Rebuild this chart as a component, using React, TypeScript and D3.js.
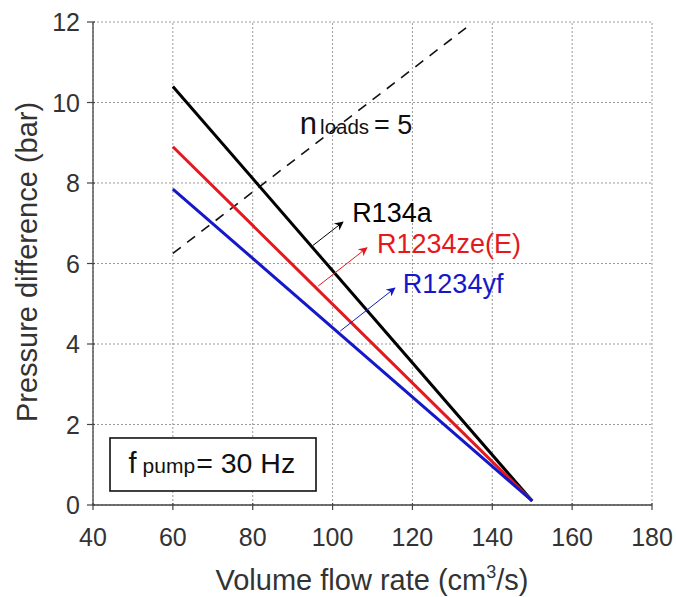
import React from "react";
import * as d3 from "d3";

const xTicks = [40, 60, 80, 100, 120, 140, 160, 180];
const yTicks = [0, 2, 4, 6, 8, 10, 12];

const flow = [60, 150];
const r134a = [10.4, 0.1];
const r1234ze = [8.9, 0.1];
const r1234yf = [7.85, 0.1];

const nLoadsFlow = [60, 134];
const nLoadsDp = [6.25, 11.9];

const seriesNames = ["R134a", "R1234ze(E)", "R1234yf"];
const seriesColors = ["#000000", "#e3191e", "#1518c8"];
const seriesValues = [r134a, r1234ze, r1234yf];

// arrows [x,y] in data units
const arrowStarts = [
  [95.1, 6.45],
  [96.4, 5.44],
  [101.9, 4.32],
];
const arrowEnds = [
  [102.6, 7.03],
  [108.6, 6.39],
  [115.6, 5.39],
];
const labelPos = [
  [104.9, 7.03],
  [111.1, 6.26],
  [117.6, 5.27],
];

const W = 676;
const H = 597;
const FONT = "'Liberation Sans', Arial, sans-serif";

export default function App() {
  const x = d3.scaleLinear().domain([40, 180]).range([93, 652]);
  const y = d3.scaleLinear().domain([0, 12]).range([505, 22]);
  const line = d3
    .line<[number, number]>()
    .x((d) => x(d[0]))
    .y((d) => y(d[1]));

  return (
    <svg
      width={W}
      height={H}
      style={{ position: "absolute", left: 0, top: 0, background: "#fff" }}
      fontFamily={FONT}
    >
      <defs>
        {seriesColors.map((c, i) => (
          <marker
            key={i}
            id={`ah${i}`}
            viewBox="0 0 10 10"
            refX="9"
            refY="5"
            markerWidth="11"
            markerHeight="9"
            markerUnits="userSpaceOnUse"
            orient="auto"
          >
            <path d="M0,0 L10,5 L0,10 L3,5 Z" fill={c} />
          </marker>
        ))}
      </defs>
      {/* grid */}
      {xTicks.map((t) => (
        <line
          key={"gx" + t}
          x1={x(t)}
          x2={x(t)}
          y1={y(0)}
          y2={y(12)}
          stroke="#9a9a9a"
          strokeDasharray="2,2"
          strokeWidth={1}
        />
      ))}
      {yTicks.map((t) => (
        <line
          key={"gy" + t}
          x1={x(40)}
          x2={x(180)}
          y1={y(t)}
          y2={y(t)}
          stroke="#9a9a9a"
          strokeDasharray="2,2"
          strokeWidth={1}
        />
      ))}
      {/* axes */}
      <line x1={x(40)} x2={x(40)} y1={y(0)} y2={y(12)} stroke="#444" strokeWidth={1.3} />
      <line x1={x(40)} x2={x(180)} y1={y(0)} y2={y(0)} stroke="#444" strokeWidth={1.3} />
      {xTicks.map((t) => (
        <g key={"tx" + t}>
          <line x1={x(t)} x2={x(t)} y1={y(0) - 2} y2={y(0) + 5} stroke="#444" strokeWidth={1.2} />
          <text x={x(t)} y={546} textAnchor="middle" fontSize={25} fill="#333">
            {t}
          </text>
        </g>
      ))}
      {yTicks.map((t) => (
        <g key={"ty" + t}>
          <line x1={x(40) - 6} x2={x(40) + 2} y1={y(t)} y2={y(t)} stroke="#444" strokeWidth={1.2} />
          <text
            x={80}
            y={y(t)}
            dy="0.36em"
            textAnchor="end"
            fontSize={25}
            fill="#333"
          >
            {t}
          </text>
        </g>
      ))}
      {/* dashed n_loads line */}
      <path
        d={line(nLoadsFlow.map((f, i) => [f, nLoadsDp[i]]) as [number, number][]) || ""}
        fill="none"
        stroke="#111"
        strokeWidth={1.6}
        strokeDasharray="10,8"
      />
      {/* series */}
      {seriesValues.map((vals, i) => (
        <path
          key={"s" + i}
          d={line(flow.map((f, j) => [f, vals[j]]) as [number, number][]) || ""}
          fill="none"
          stroke={seriesColors[i]}
          strokeWidth={3}
        />
      ))}
      {/* arrows */}
      {arrowStarts.map((s, i) => (
        <line
          key={"a" + i}
          x1={x(s[0])}
          y1={y(s[1])}
          x2={x(arrowEnds[i][0])}
          y2={y(arrowEnds[i][1])}
          stroke={seriesColors[i]}
          strokeWidth={1}
          markerEnd={`url(#ah${i})`}
        />
      ))}
      {labelPos.map((p, i) => (
        <text key={"l" + i} x={x(p[0])} y={y(p[1])} fontSize={27} fill={seriesColors[i]}>
          {seriesNames[i]}
        </text>
      ))}
      {/* n_loads label */}
      <text x={x(91.8)} y={y(9.22)} fill="#111">
        <tspan fontSize={31}>n</tspan>
        <tspan fontSize={20.5} dx={3}>loads</tspan>
        <tspan fontSize={27} dx={5}>= 5</tspan>
      </text>
      {/* pump box */}
      <rect
        x={x(44.26)}
        y={y(1.665)}
        width={x(95.85) - x(44.26)}
        height={y(0.348) - y(1.665)}
        fill="#fff"
        stroke="#111"
        strokeWidth={1.6}
      />
      <text x={x(48.9)} y={y(0.8)} fill="#111">
        <tspan fontSize={29}>f</tspan>
        <tspan fontSize={21} dx={6}>pump</tspan>
        <tspan fontSize={28.5} dx={1}>= 30 Hz</tspan>
      </text>
      {/* axis titles */}
      <text x={372} y={590} textAnchor="middle" fontSize={29} fill="#333">
        Volume flow rate (cm
        <tspan fontSize={18} dy={-12}>3</tspan>
        <tspan dy={12}>/s)</tspan>
      </text>
      <text
        transform={`translate(37,${262}) rotate(-90)`}
        textAnchor="middle"
        fontSize={29}
        fill="#333"
      >
        Pressure difference (bar)
      </text>
    </svg>
  );
}
